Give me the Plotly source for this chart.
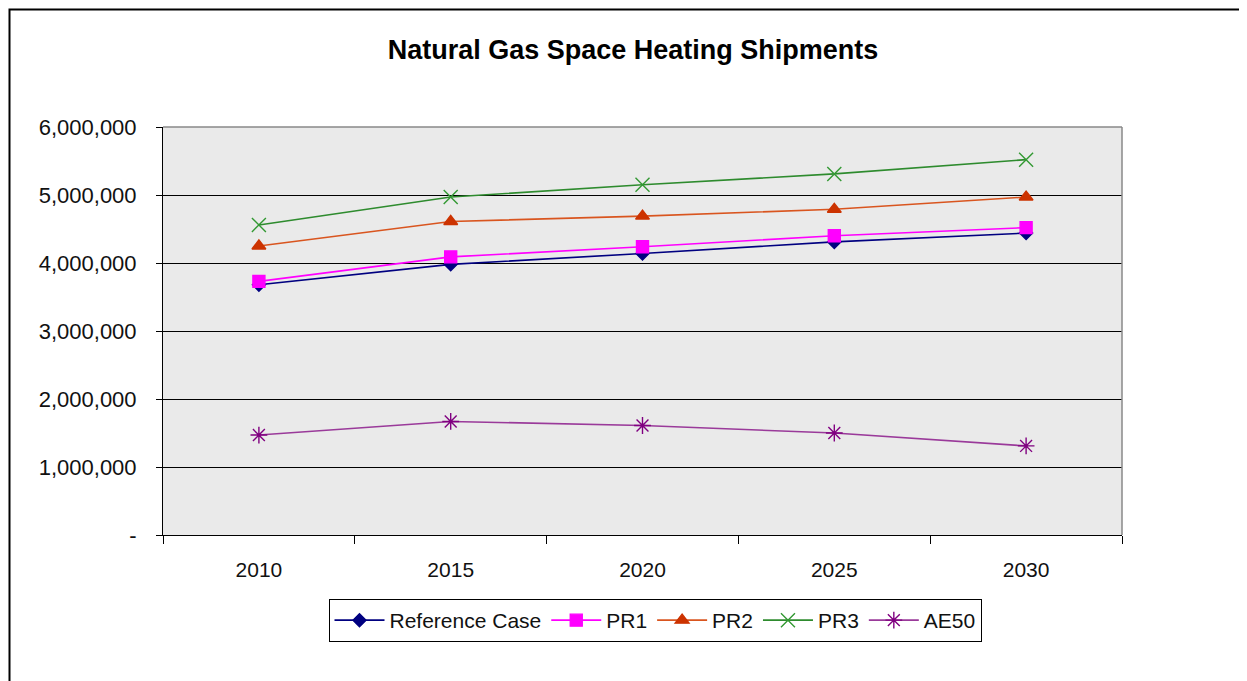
import plotly.graph_objects as go

years = ["2010", "2015", "2020", "2025", "2030"]
reference_case = [3680000, 3980000, 4140000, 4310000, 4440000]
pr1 = [3730000, 4090000, 4240000, 4400000, 4520000]
pr2 = [4250000, 4610000, 4690000, 4790000, 4970000]
pr3 = [4560000, 4970000, 5150000, 5310000, 5520000]
ae50 = [1470000, 1670000, 1610000, 1500000, 1310000]
y_ticks = [0, 1000000, 2000000, 3000000, 4000000, 5000000, 6000000]
y_tick_labels = [f"{v:,}" if v else "-" for v in y_ticks]

# page body adds an 8px margin, so target screen pixels are shifted by OFF
OFF = 8
W, H = 1247, 681
L, T = 163 - OFF, 127 - OFF
R = W - (1122 - OFF)
B = H - (535 - OFF)
pw, ph = W - L - R, H - T - B


def px(x):  # screen pixel -> paper x
    return (x - OFF - L) / pw


def py(y):  # screen pixel -> paper y
    return (H - B - (y - OFF)) / ph


font = "Liberation Sans, Arial, sans-serif"

fig = go.Figure()
series = [
    ("Reference Case", reference_case, "#000080", "#000080", "diamond", 10),
    ("PR1", pr1, "#FF00FF", "#FF00FF", "square", 12),
    ("PR2", pr2, "#D9551F", "#CC3300", "triangle-up", 12),
    ("PR3", pr3, "#2E8B2E", "#339933", "x-thin-open", 14),
    ("AE50", ae50, "#9A3A9A", "#800080", "asterisk-open", 14),
]
for name, vals, lc, mc, sym, sz in series:
    fig.add_trace(go.Scatter(
        x=years, y=vals, name=name, mode="lines+markers",
        line=dict(color=lc, width=1.6),
        marker=dict(symbol=sym, size=sz, color=mc, line=dict(color=mc, width=1.4)),
    ))

fig.update_layout(
    width=W, height=H,
    margin=dict(l=L, r=R, t=T, b=B),
    paper_bgcolor="white",
    plot_bgcolor="#EAEAEA",
    font=dict(family=font, size=20, color="#111111"),
    title=dict(text="<b>Natural Gas Space Heating Shipments</b>",
               x=(633 - OFF) / W, xanchor="center", xref="container",
               y=1 - (50 - OFF) / H, yanchor="middle", yref="container",
               font=dict(family=font, size=27, color="#000000")),
    showlegend=True,
    legend=dict(orientation="h", x=px(655), xanchor="center",
                y=py(599), yanchor="top",
                bordercolor="#000000", borderwidth=1, bgcolor="white",
                font=dict(family=font, size=21, color="#111111"),
                itemwidth=50, tracegroupgap=0),
    xaxis=dict(type="category", range=[-0.5, 4.5], tickson="boundaries",
               ticks="outside", ticklen=8, tickcolor="#000000",
               showline=True, linecolor="#000000", linewidth=1,
               showgrid=False, ticklabelstandoff=16,
               tickfont=dict(family=font, size=21, color="#111111")),
    yaxis=dict(range=[0, 6000000], tickvals=y_ticks, ticktext=y_tick_labels,
               ticks="outside", ticklen=6, tickcolor="#000000",
               showline=True, linecolor="#000000", linewidth=1,
               showgrid=True, gridcolor="#000000", gridwidth=1.3,
               zeroline=False, ticklabelstandoff=15,
               tickfont=dict(family=font, size=22, color="#111111")),
    shapes=[
        dict(type="line", xref="paper", yref="paper", x0=0, x1=1, y0=1, y1=1,
             line=dict(color="#888888", width=1.5), layer="above"),
        dict(type="line", xref="paper", yref="paper", x0=1, x1=1, y0=0, y1=1,
             line=dict(color="#888888", width=1.5), layer="above"),
        dict(type="rect", xref="paper", yref="paper",
             x0=px(OFF + 1.5), x1=px(1265), y0=py(700), y1=py(OFF + 1.5),
             line=dict(color="#000000", width=2), layer="above"),
    ],
)

fig.write_html("out.html")
